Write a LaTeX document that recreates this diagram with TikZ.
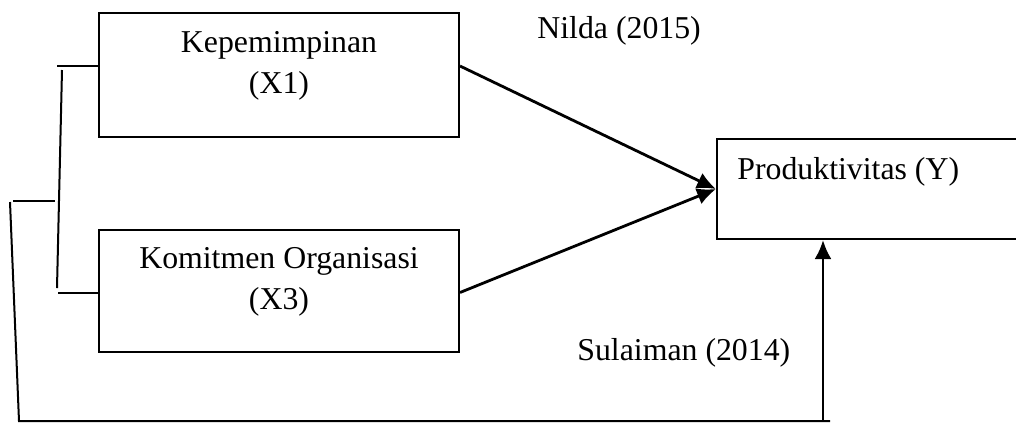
\documentclass[tikz,border=0pt]{standalone}
\usepackage{fontspec}
\setmainfont{Liberation Serif}
\usetikzlibrary{arrows.meta}

\tikzset{
  box/.style={draw, line width=1pt, inner sep=0pt},
  boxtext/.style={inner sep=0pt, align=center, font=\fontsize{15.9}{20.5}\selectfont},
  conn/.style={line width=1.4pt},
  bracket/.style={line width=1pt},
  tip/.style={-{Latex[length=9.5pt,width=8.5pt]}}
}

\begin{document}
\begin{tikzpicture}[x=0.5pt, y=-0.5pt]
				\useasboundingbox (0, 0) rectangle (1016, 425);
				
				% variabel bebas
				\node[box, minimum width=180pt, minimum height=62pt,
				      label={[boxtext, anchor=north, yshift=-9.5pt]north:Kepemimpinan\\(X1)}]
				      (x1) at (279, 75) {};
				\node[box, minimum width=180pt, minimum height=61pt,
				      label={[boxtext, anchor=north, yshift=-9.5pt]north:Komitmen Organisasi\\(X3)}]
				      (x3) at (279, 290.5) {};
				
				% variabel terikat
				\node[box, anchor=north west, minimum width=170pt, minimum height=50pt,
				      label={[boxtext, anchor=north west, xshift=10.5pt, yshift=-9.5pt]north west:Produktivitas (Y)}]
				      (y) at (716, 138) {};
				
				% sumber
				\node[boxtext, anchor=base west] (nilda) at (537, 38) {Nilda (2015)};
				\node[boxtext, anchor=base west] (sulaiman) at (577, 360) {Sulaiman (2014)};
				
				% panah ke Y
				\draw[conn, tip] ([yshift=4.5pt]x1.east) -- (y.west);
				\draw[conn, tip] ([yshift=-1pt]x3.east) -- (y.west);
				
				% kurung kiri
				\coordinate (a1) at (57, 66);
				\coordinate (a2) at (62, 70);
				\coordinate (a3) at (57, 288);
				\coordinate (a4) at (58, 293);
				\draw[bracket] (a1) -- (a1 -| x1.west);
				\draw[bracket] (a2) -- (a3);
				\draw[bracket] (a4) -- (a4 -| x3.west);
				
				\coordinate (b1) at (13, 201);
				\coordinate (b2) at (55, 201);
				\coordinate (b3) at (10, 202);
				\coordinate (b4) at (19, 421);
				\coordinate (b5) at (830, 421);
				\coordinate (b6) at (823, 421);
				\draw[bracket] (b1) -- (b2);
				\draw[bracket] (b3) -- (b4) -- (b5);
				\draw[conn, tip] (b6) -- (b6 |- y.south);
			\end{tikzpicture}
\end{document}
